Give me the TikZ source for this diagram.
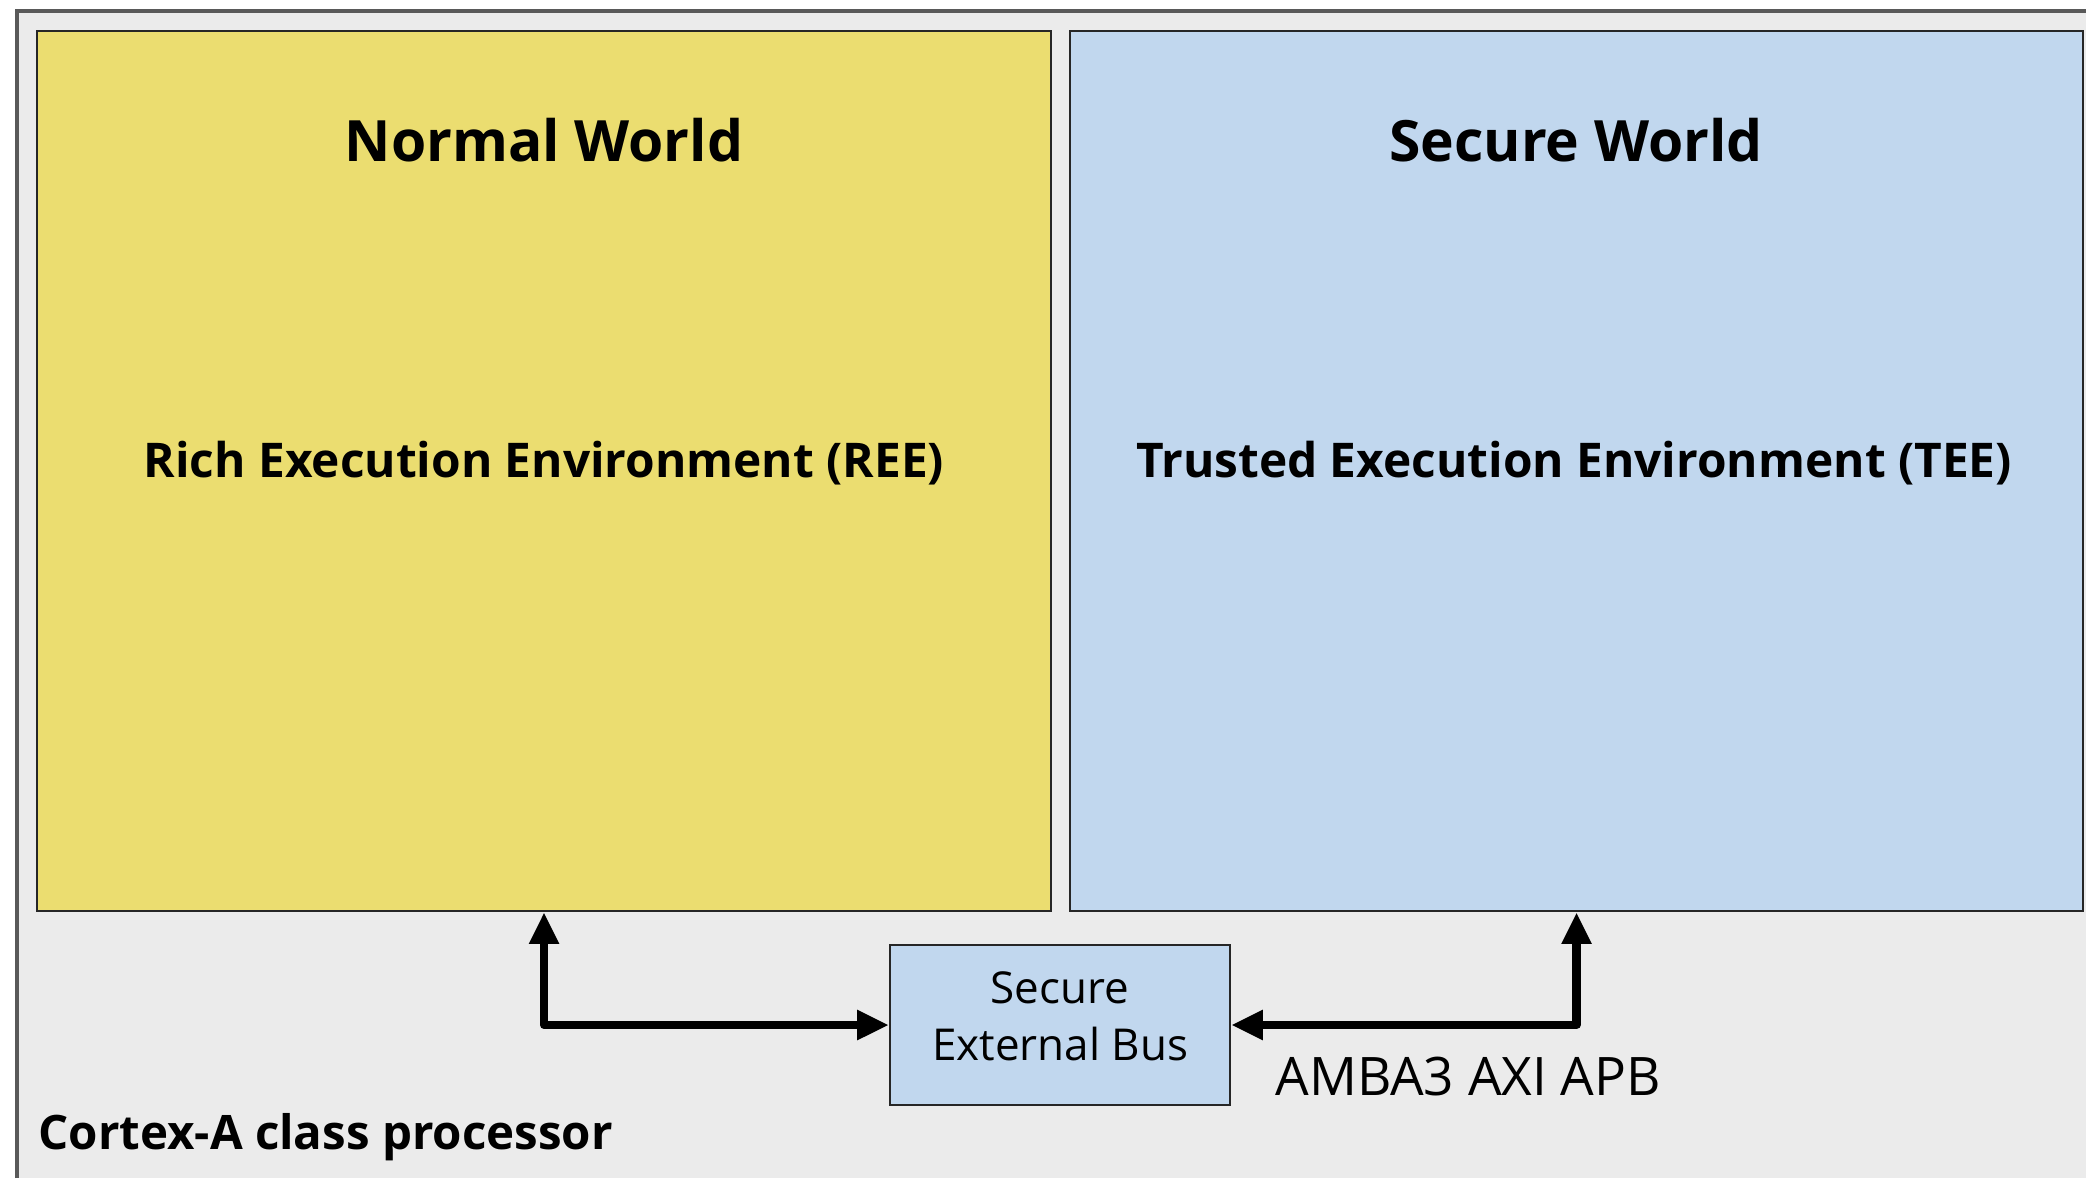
\documentclass[tikz,border=0pt]{standalone}
\usepackage{fontspec}
\setmainfont{Open Sans}
\usetikzlibrary{arrows.meta}
\definecolor{reeyellow}{RGB}{235,221,112}
\definecolor{teeblue}{RGB}{193,215,238}
\definecolor{cpugray}{RGB}{235,235,235}

\begin{document}
\begin{tikzpicture}[x=0.01cm, y=-0.01cm,
	world/.style={draw=black!85, line width=0.6pt, inner sep=0pt},
	title/.style={font=\fontsize{16.2}{19}\selectfont\bfseries},
	envlabel/.style={font=\fontsize{13.6}{16}\selectfont\bfseries},
	buslabel/.style={font=\fontsize{12.5}{16.2}\selectfont, align=center},
	busline/.style={line width=2.3pt, line join=round,
		{Triangle[length=9pt,width=8pt]}-{Triangle[length=9pt,width=8pt]}}]
	\useasboundingbox (0,0) rectangle (2086,1178);
	% processor frame, cut off at the right and bottom
	\fill[cpugray] (17,11) rectangle (2086,1178);
	\draw[black!65, line width=1pt] (17,1178) |- (2086,11);
	% the two worlds
	\node[world, fill=reeyellow, minimum width=10.14cm, minimum height=8.8cm] (normal) at (544,471) {};
	\node[world, fill=teeblue, minimum width=10.13cm, minimum height=8.8cm] (secure) at (1576.5,471) {};
	\node[title] (normaltitle) at (544,140) {Normal World};
	\node[title] (securetitle) at (1576,140) {Secure World};
	\node[envlabel] (ree) at (544,463) {Rich Execution Environment (REE)};
	\node[envlabel] (tee) at (1574,463) {Trusted Execution Environment (TEE)};
	% bus
	\node[world, fill=teeblue, minimum width=3.4cm, minimum height=1.6cm, buslabel, text depth=5pt] (bus) at (1060,1025) {Secure\\External Bus};
	\draw[busline] (normal.south) |- (bus.west);
	\draw[busline] (secure.south) |- (bus.east);
	\node[buslabel, font=\fontsize{15.1}{18}\selectfont, anchor=west] (amba) at (1263,1077) {AMBA3 AXI APB};
	\node[envlabel, font=\fontsize{13.5}{16}\selectfont\bfseries, anchor=west] (cpu) at (26,1137) {Cortex-A class processor};
\end{tikzpicture}
\end{document}
